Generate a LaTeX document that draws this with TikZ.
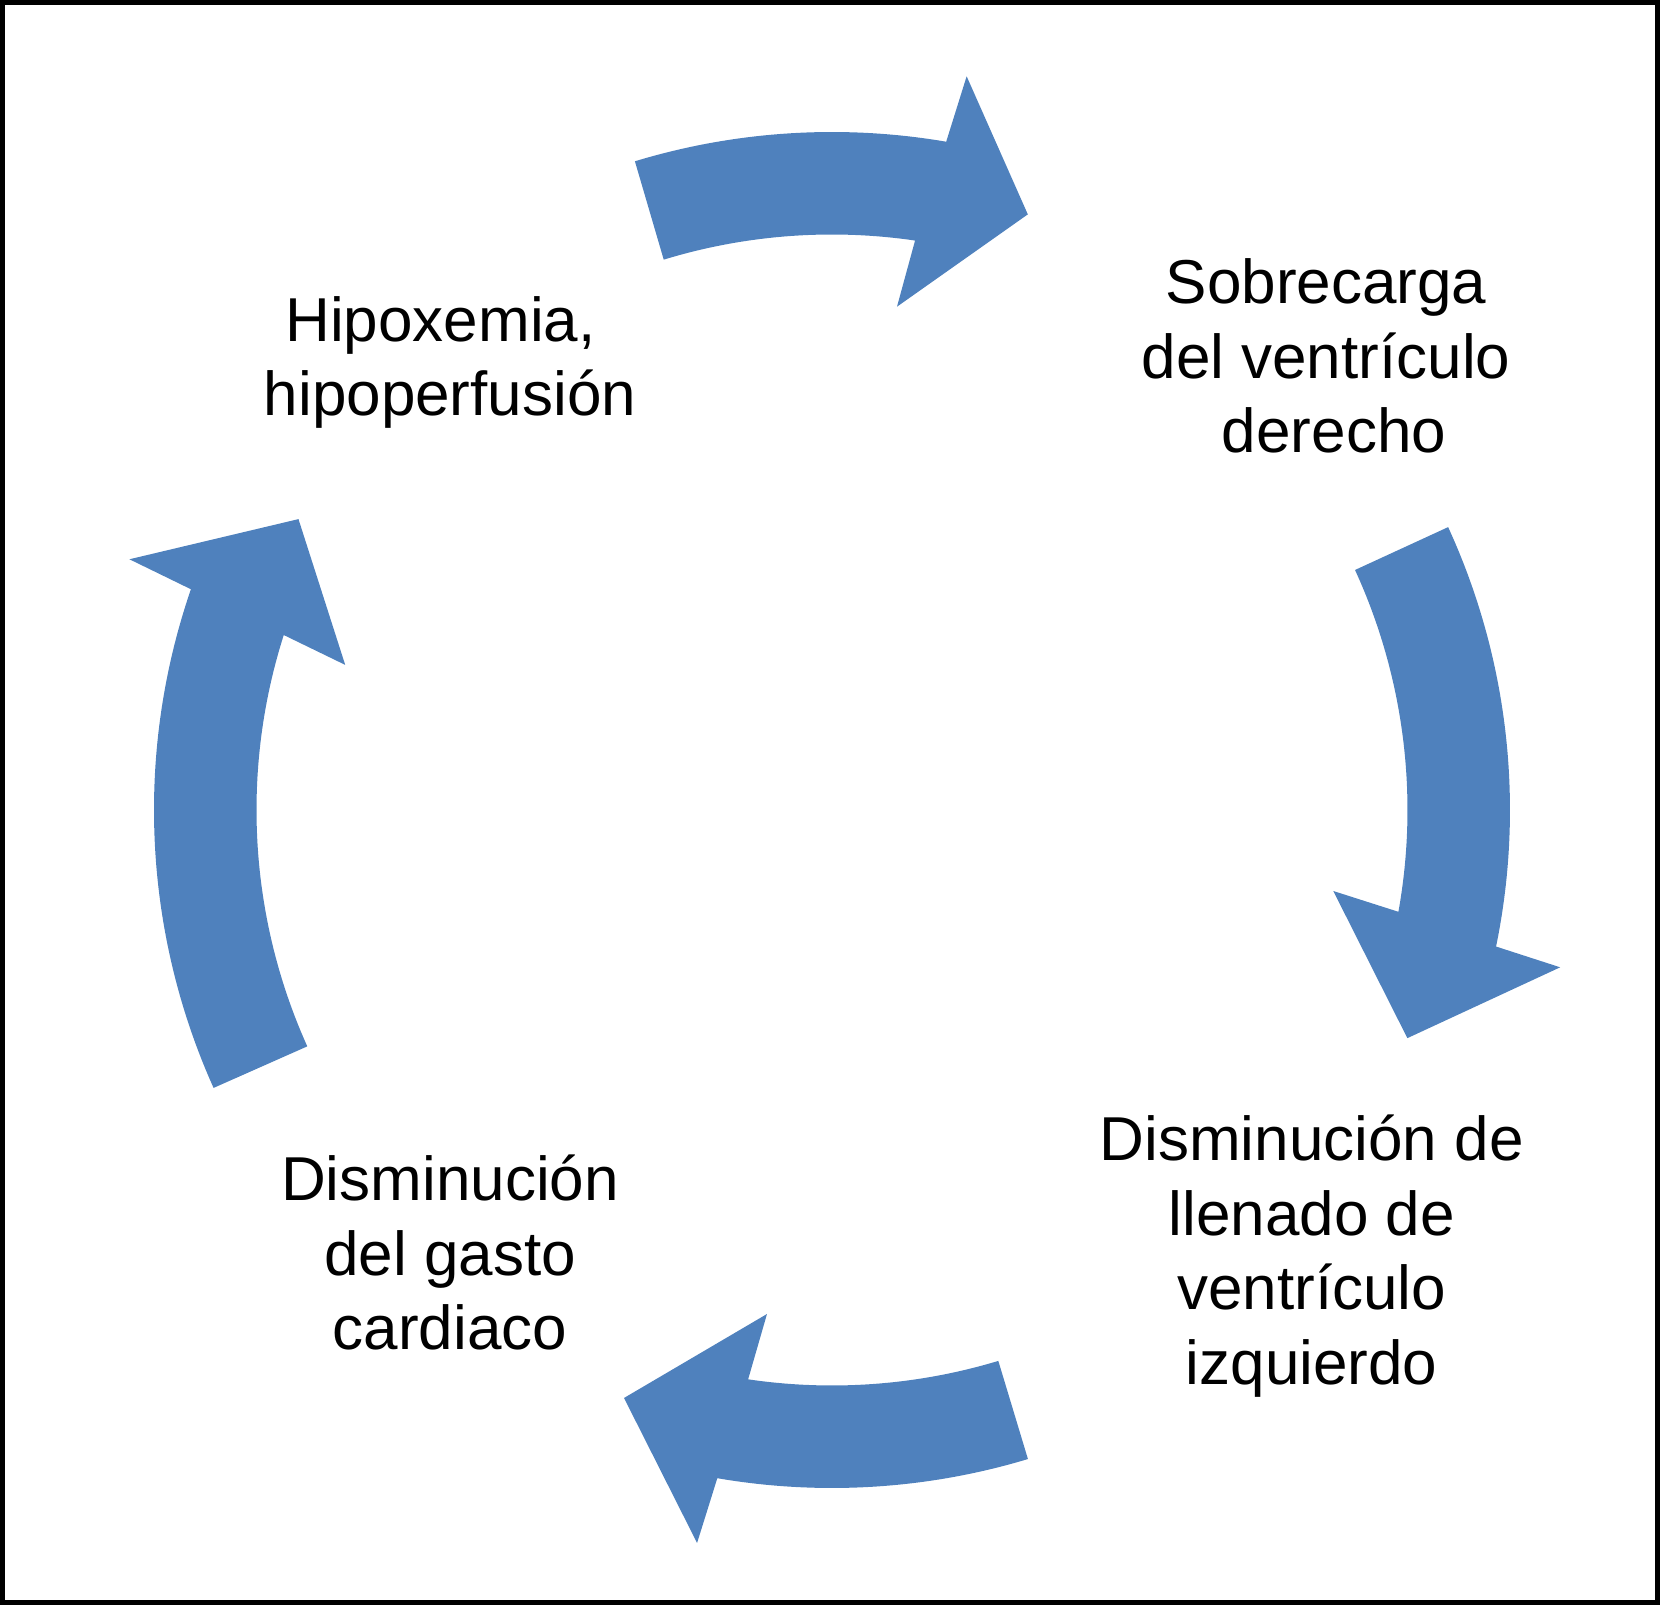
\documentclass[tikz,border=0pt]{standalone}
\usepackage{fontspec}
\usetikzlibrary{calc}
\setmainfont{Liberation Sans}
\definecolor{arrowblue}{RGB}{79,129,189}
\begin{document}
\begin{tikzpicture}[
  blockarrow/.style={fill=arrowblue, draw=none},
  cyclelabel/.style={anchor=north, inner sep=0pt, align=center,
    font=\fontsize{62}{74.5}\selectfont}
]
\useasboundingbox (-832pt,-795pt) rectangle (828pt,810pt);
\draw[line width=5pt] (-829.5pt,-792.5pt) rectangle (825.5pt,807.5pt);
\coordinate (c) at (0,0);

% top arrow
\fill[blockarrow] ($(c)+(106.9:678pt)$) arc[start angle=106.9, end angle=80.3, radius=678pt]
  -- ($(c)+(79.6:746pt)$) -- ($(c)+(71.8:627pt)$) -- ($(c)+(82.64:507.5pt)$)
  -- ($(c)+(81.7:575.5pt)$) arc[start angle=81.7, end angle=107.0, radius=575.5pt] -- cycle;
% right arrow
\fill[blockarrow] ($(c)+(24.66:678pt)$) arc[start angle=24.66, end angle=-11.62, radius=678pt]
  -- ($(c)+(-12.19:745pt)$) -- ($(c)+(-21.63:619pt)$) -- ($(c)+(-9.18:507.8pt)$)
  -- ($(c)+(-10.19:575.5pt)$) arc[start angle=-10.19, end angle=24.65, radius=575.5pt] -- cycle;
% bottom arrow
\fill[blockarrow] ($(c)+(-73.2:678pt)$) arc[start angle=-73.2, end angle=-99.74, radius=678pt]
  -- ($(c)+(-100.43:745.3pt)$) -- ($(c)+(-109.48:623.7pt)$) -- ($(c)+(-97.35:508.2pt)$)
  -- ($(c)+(-98.38:575.5pt)$) arc[start angle=-98.38, end angle=-73.2, radius=575.5pt] -- cycle;
% left arrow
\fill[blockarrow] ($(c)+(204.2:678pt)$) arc[start angle=204.2, end angle=161.0, radius=678pt]
  -- ($(c)+(160.36:746pt)$) -- ($(c)+(151.4:607.7pt)$) -- ($(c)+(163.4:508pt)$)
  -- ($(c)+(162.3:575.5pt)$) arc[start angle=162.3, end angle=204.25, radius=575.5pt] -- cycle;

\node[cyclelabel] (hipox) at (-382pt,519pt)
  {\rule{0pt}{50pt}Hipoxemia,\hspace*{19pt}\\hipoperfusión};
\node[cyclelabel] (sobre) at (494pt,556.6pt)
  {\rule{0pt}{50pt}Sobrecarga\\del ventrículo\\\hspace*{16pt}derecho};
\node[cyclelabel] (llenado) at (479.7pt,-300.4pt)
  {\rule{0pt}{50pt}Disminución de\\llenado de\\ventrículo\\izquierdo};
\node[cyclelabel] (gasto) at (-382pt,-340.6pt)
  {\rule{0pt}{50pt}Disminución\\del gasto\\cardiaco};
\end{tikzpicture}
\end{document}
